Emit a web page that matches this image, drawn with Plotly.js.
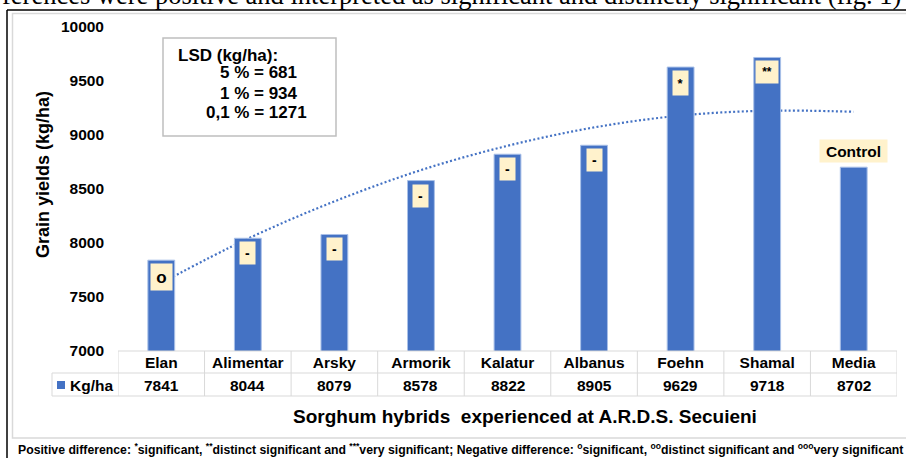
<!DOCTYPE html>
<html><head><meta charset="utf-8">
<script src="https://cdn.plot.ly/plotly-3.0.1.min.js"></script>
<style>html,body{margin:0;padding:0;background:#fff}#chart{width:906px;height:458px}</style>
</head><body><div id="chart"></div>
<script>
// ---- data ----
const categories = ['Elan','Alimentar','Arsky','Armorik','Kalatur','Albanus','Foehn','Shamal','Media'];
const yields = [7841, 8044, 8079, 8578, 8822, 8905, 9629, 9718, 8702];
const significance = ['o','-','-','-','-','-','*','**',''];
const trendValues = [7630, 8040, 8385, 8675, 8900, 9070, 9180, 9225, 9215];
const seriesName = 'Kg/ha';
const yTickValues = [7000, 7500, 8000, 8500, 9000, 9500, 10000];
const yTickLabels = ['7000', '7500', '8000', '8500', '9000', '9500', '10000'];
const lsdLines = ['LSD (kg/ha):', '5 % = 681', '1 % = 934', '0,1 % = 1271'];
const xTitle = 'Sorghum hybrids&nbsp; experienced at A.R.D.S. Secuieni';
const yTitle = 'Grain yields (kg/ha)';
const controlLabel = 'Control';
const footnote = 'Positive difference: <sup>*</sup>significant, <sup>**</sup>distinct significant and <sup>***</sup>very significant; Negative difference: <sup>o</sup>significant, <sup>oo</sup>distinct significant and <sup>ooo</sup>very significant';
const bodyText = 'ferences were positive and interpreted as significant and distinctly significant (fig. 1)';

// ---- layout helpers ----
const W = 906, H = 458, L = 118, R = 9, T = 27, B = 107;
const PW = W - L - R, PH = H - T - B;
const px = x => (x - L) / PW;
const py = y => (H - B - y) / PH;
const FONT = 'Liberation Sans, Arial, sans-serif';
const BLUE = '#4472C4';
const CREAM = '#FFF2CC';
const GRID = '#D9D9D9';

const bars = {
  type: 'bar', x: categories, y: yields, name: seriesName,
  xaxis: 'x2', yaxis: 'y2',
  marker: {color: BLUE, line: {color: '#A9C0E8', width: 1}},
  width: 0.31, showlegend: false, hoverinfo: 'x+y'
};
const trend = {
  type: 'scatter', mode: 'lines', x: categories, y: trendValues,
  line: {color: BLUE, width: 2.2, dash: '2px,2.3px', shape: 'spline'},
  showlegend: false, hoverinfo: 'skip'
};

const boxStyle = {
  'o':  {w: 21, h: 26, s: 17},
  '-':  {w: 15, h: 22, s: 14},
  '*':  {w: 15, h: 24, s: 13},
  '**': {w: 22, h: 22, s: 12}
};

const annotations = [];
const shapes = [];

// significance boxes inside bars
significance.forEach((sig, i) => {
  if (!sig) return;
  const st = boxStyle[sig];
  annotations.push({
    xref: 'x', yref: 'y', x: categories[i], y: yields[i], yanchor: 'top', yshift: -3,
    text: sig, showarrow: false, width: st.w, height: st.h, borderpad: 0,
    bgcolor: CREAM, font: {family: FONT, size: st.s, color: '#000', weight: 700}
  });
});
// Control label above Media
significance.forEach((sig, i) => {
  if (sig) return;
  annotations.push({
    xref: 'x', yref: 'y', x: categories[i], y: yields[i], yanchor: 'bottom', yshift: 4,
    text: controlLabel, showarrow: false, width: 67, height: 22, borderpad: 0,
    bgcolor: CREAM, font: {family: FONT, size: 15.5, color: '#000', weight: 700}
  });
});

// data table values row
yields.forEach((v, i) => {
  annotations.push({
    xref: 'x', yref: 'paper', x: categories[i], y: 0, yanchor: 'middle', yshift: -34,
    text: String(v), showarrow: false,
    font: {family: FONT, size: 15.5, color: '#000', weight: 700}
  });
});
// legend key in table
annotations.push({
  xref: 'paper', yref: 'paper', x: px(68), y: 0, xanchor: 'left', yanchor: 'middle', yshift: -34,
  text: seriesName, showarrow: false, font: {family: FONT, size: 15.5, color: '#000', weight: 700}
});
shapes.push({type: 'rect', xref: 'paper', yref: 'paper', x0: px(57), x1: px(65), y0: py(389), y1: py(381),
  fillcolor: BLUE, line: {width: 0}});

// table grid
const gl = {color: GRID, width: 1};
for (let k = 0; k <= categories.length; k++) {
  shapes.push({type: 'line', xref: 'x', yref: 'paper', x0: k - 0.5, x1: k - 0.5, y0: py(396), y1: 0, line: gl});
}
shapes.push({type: 'line', xref: 'paper', yref: 'paper', x0: 0, x1: 1, y0: 0, y1: 0, line: gl});
shapes.push({type: 'line', xref: 'paper', yref: 'paper', x0: px(52), x1: 1, y0: py(373), y1: py(373), line: gl});
shapes.push({type: 'line', xref: 'paper', yref: 'paper', x0: px(52), x1: 1, y0: py(396), y1: py(396), line: gl});
shapes.push({type: 'line', xref: 'paper', yref: 'paper', x0: px(52), x1: px(52), y0: py(396), y1: py(373), line: gl});

// LSD box
shapes.push({type: 'rect', xref: 'paper', yref: 'paper', x0: px(163), x1: px(336), y0: py(136), y1: py(38),
  line: {color: '#BFBFBF', width: 1.5}, fillcolor: 'rgba(0,0,0,0)'});
const lsdX = [176, 218, 218, 204];
const lsdY = [55, 73, 93, 113];
lsdLines.forEach((t, i) => {
  annotations.push({xref: 'paper', yref: 'paper', x: px(lsdX[i]), y: py(lsdY[i]), xanchor: 'left', yanchor: 'middle',
    text: t, showarrow: false, font: {family: FONT, size: 17, color: '#000', weight: 700}});
});

// titles
annotations.push({xref: 'paper', yref: 'paper', x: px(525), y: py(416), xanchor: 'center', yanchor: 'middle',
  text: xTitle, showarrow: false, font: {family: FONT, size: 19, color: '#000', weight: 700}});
annotations.push({xref: 'paper', yref: 'paper', x: px(43), y: py(175), xanchor: 'center', yanchor: 'middle',
  text: yTitle, textangle: -90, showarrow: false, font: {family: FONT, size: 18, color: '#000', weight: 700}});

// footnote & page text
annotations.push({xref: 'paper', yref: 'paper', x: px(16), y: py(449), xanchor: 'left', yanchor: 'middle',
  text: footnote, showarrow: false, font: {family: FONT, size: 12.25, color: '#000', weight: 700}});
annotations.push({xref: 'paper', yref: 'paper', x: px(451), y: py(-5), xanchor: 'center', yanchor: 'middle',
  text: bodyText, showarrow: false, font: {family: 'Liberation Serif, Times New Roman, serif', size: 26.5, color: '#000'}});

// page frame lines
shapes.push({type: 'line', xref: 'paper', yref: 'paper', x0: px(7), x1: px(910), y0: py(10), y1: py(10), line: {color: '#000', width: 1.5}});
shapes.push({type: 'line', xref: 'paper', yref: 'paper', x0: px(7), x1: px(7), y0: py(10), y1: py(460), line: {color: '#000', width: 1.5}});
shapes.push({type: 'rect', xref: 'paper', yref: 'paper', x0: px(12.5), x1: px(915), y0: py(438), y1: py(13.5), line: {color: GRID, width: 1.5}, fillcolor: 'rgba(0,0,0,0)'});

const layout = {
  width: W, height: H,
  margin: {l: L, r: R, t: T, b: B, pad: 0},
  paper_bgcolor: '#fff', plot_bgcolor: 'rgba(0,0,0,0)',
  showlegend: false, bargap: 0.69,
  xaxis: {type: 'category', categoryarray: categories, range: [-0.5, categories.length - 0.5],
    showgrid: false, zeroline: false, showline: false, ticks: '', ticklabelstandoff: 0,
    tickfont: {family: FONT, size: 15.5, color: '#000', weight: 700}, fixedrange: true},
  xaxis2: {type: 'category', overlaying: 'x', matches: 'x', visible: false},
  yaxis: {range: [7000, 10000], tickmode: 'array', tickvals: yTickValues, ticktext: yTickLabels,
    showgrid: false, zeroline: false, showline: false,
    ticks: '', ticklabelstandoff: 13, tickfont: {family: FONT, size: 15.5, color: '#000', weight: 700}, fixedrange: true},
  yaxis2: {overlaying: 'y', matches: 'y', range: [7000, 10000], visible: false},
  annotations, shapes
};

Plotly.newPlot('chart', [trend, bars], layout, {displayModeBar: false, staticPlot: true});
</script></body></html>
